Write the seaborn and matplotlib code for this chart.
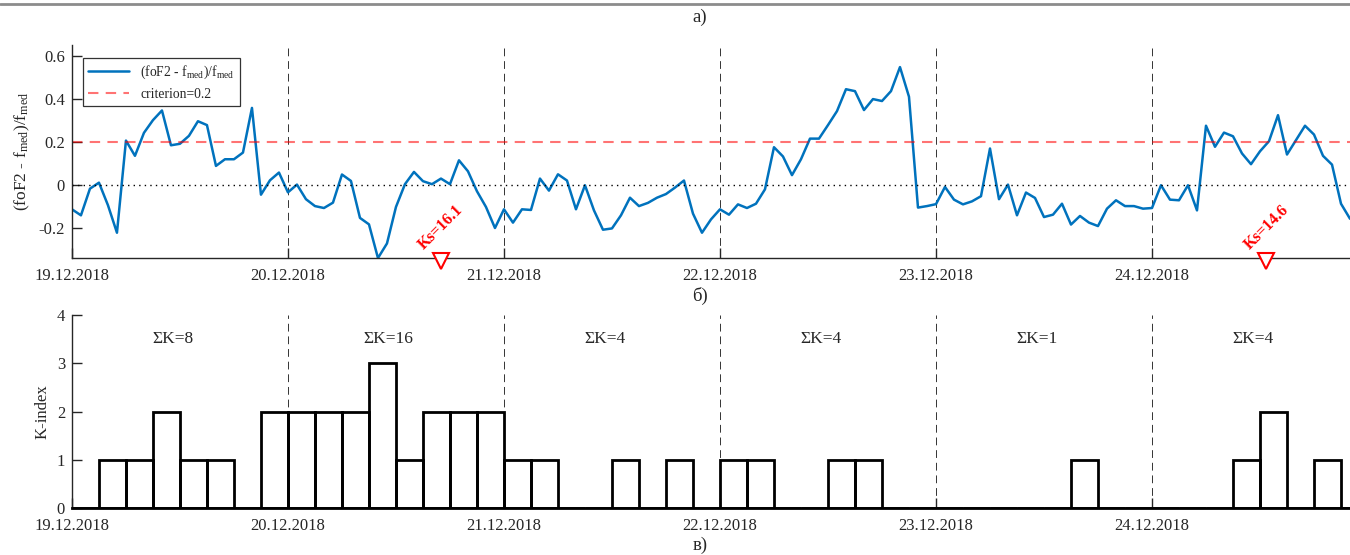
import numpy as np
import pandas as pd
import seaborn as sns
import matplotlib.pyplot as plt
from matplotlib.lines import Line2D

# hourly (foF2 - fmed)/fmed, starting 19.12.2018 00 UT
dfof2 = [-0.115, -0.143, -0.019, 0.009, -0.096, -0.224, 0.205, 0.134, 0.241, 0.30,
         0.345, 0.183, 0.19, 0.227, 0.295, 0.277, 0.087, 0.118, 0.118, 0.149,
         0.357, -0.047, 0.02, 0.056, -0.036,
         0.0, -0.068, -0.1, -0.109, -0.084, 0.047, 0.017, -0.155, -0.185, -0.342,
         -0.274, -0.104, 0.002, 0.059, 0.016, 0.002, 0.028, 0.002, 0.113, 0.062,
         -0.031, -0.104, -0.202, -0.115,
         -0.177, -0.115, -0.118, 0.028, -0.028, 0.048, 0.019, -0.115, -0.003, -0.12,
         -0.21, -0.204, -0.143, -0.061, -0.1, -0.085, -0.061, -0.044, -0.014, 0.019,
         -0.135, -0.224, -0.162, -0.115,
         -0.14, -0.092, -0.109, -0.089, -0.022, 0.174, 0.131, 0.044, 0.118, 0.214,
         0.214, 0.277, 0.342, 0.444, 0.435, 0.347, 0.398, 0.389, 0.435, 0.547,
         0.409, -0.107, -0.1, -0.091,
         -0.011, -0.07, -0.092, -0.078, -0.054, 0.168, -0.068, 0.0, -0.143, -0.037,
         -0.062, -0.151, -0.14, -0.089, -0.186, -0.146, -0.177, -0.193, -0.112, -0.073,
         -0.1, -0.1, -0.112, -0.109,
         -0.003, -0.07, -0.073, -0.003, -0.12, 0.274, 0.176, 0.242, 0.225, 0.145,
         0.095, 0.155, 0.202, 0.323, 0.14, 0.207, 0.274, 0.233, 0.134, 0.093,
         -0.089, -0.159]
hours = list(range(len(dfof2)))

# 3-hour K-index
k_index = [0, 1, 1, 2, 1, 1, 0, 2,
           2, 2, 2, 3, 1, 2, 2, 2,
           1, 1, 0, 0, 1, 0, 1, 0,
           1, 1, 0, 0, 1, 1, 0, 0,
           0, 0, 0, 0, 0, 1, 0, 0,
           0, 0, 0, 1, 2, 0, 1, 0]
k_sums = [8, 16, 4, 4, 1, 4]
day_labels = ["19.12.2018", "20.12.2018", "21.12.2018", "22.12.2018", "23.12.2018", "24.12.2018"]
criterion = 0.2
storm_hours = [41, 132.7]
storm_ks = [16.1, 14.6]

sns.set_style("ticks")
plt.rcParams['font.family'] = ['Liberation Serif', 'DejaVu Serif']
plt.rcParams['mathtext.fontset'] = 'custom'
plt.rcParams['mathtext.rm'] = 'Liberation Serif'
plt.rcParams['mathtext.it'] = 'Liberation Serif:italic'
plt.rcParams['axes.edgecolor'] = '#262626'

fig = plt.figure(figsize=(13.5, 5.55), dpi=100)
ax1 = fig.add_axes([0.0533, 0.535, 0.9467, 0.384])
ax2 = fig.add_axes([0.0533, 0.0847, 0.9467, 0.3477])

df = pd.DataFrame({"hour": hours, "dfof2": dfof2})
lab = r'(foF2 - f$_{\rm med}$)/f$_{\rm med}$'
sns.lineplot(data=df, x="hour", y="dfof2", ax=ax1, color='#0072BD', lw=1.8, label=lab)
ax1.axhline(criterion, color='red', alpha=0.55, lw=1.5, ls=(0, (5, 3.5)), label='criterion=0.2')
ax1.axhline(0, color='black', lw=1, ls=(0, (1, 3)))
for h in range(24, 144, 24):
    ax1.axvline(h, color='#333333', lw=0.7, ls=(0, (8, 5)), zorder=0)
    ax2.axvline(h, color='#333333', lw=0.7, ls=(0, (8, 5)), zorder=0)

ax1.set_xlim(0, hours[-1])
ax1.set_ylim(-0.342, 0.65)
ax1.set_yticks([-0.2, 0, 0.2, 0.4, 0.6])
ax1.set_yticklabels(['-0.2', '0', '0.2', '0.4', '0.6'])
ax1.set_xlabel("")
ax1.set_ylabel(lab, fontsize=12.5)
ax1.yaxis.set_label_coords(-0.031, 0.5)

for h, ks in zip(storm_hours, storm_ks):
    ax1.plot([h], [-0.357], marker='v', ms=12, mfc='white', mec='red', mew=1.5,
             clip_on=False, zorder=5)
    ax1.text(h, -0.2, "Ks=%.1f" % ks, color='red', fontweight='bold', fontsize=11.5,
             rotation=45, ha='center', va='center')

leg = ax1.legend(loc='upper left', bbox_to_anchor=(0.0086, 0.939), borderaxespad=0,
                 fontsize=9.8, frameon=True, fancybox=False, edgecolor='black',
                 handlelength=3)
leg.get_frame().set_linewidth(0.9)

# K-index bars
kdf = pd.DataFrame({"t": np.arange(len(k_index)) * 3 + 1.5, "k": k_index})
sns.histplot(data=kdf, x="t", weights="k", binwidth=3, binrange=(0, 144),
             fill=False, color='black', linewidth=2, ax=ax2)
ax2.set_xlim(0, hours[-1])
ax2.set_ylim(0, 4)
ax2.set_yticks([0, 1, 2, 3, 4])
ax2.set_ylabel("K-index", fontsize=12)
ax2.yaxis.set_label_coords(-0.017, 0.5)
for i, s in enumerate(k_sums):
    ax2.text(24 * i + 11.2, 3.5, "ΣK=%d" % s, fontsize=12.5, ha='center', va='center')

for ax in (ax1, ax2):
    ax.set_xticks(range(0, 144, 24))
    ax.set_xticklabels(day_labels)
    ax.tick_params(direction='in', length=7, width=1, labelsize=12)
    ax.tick_params(axis='x', pad=7)
    ax.tick_params(axis='y', pad=5)
    ax.spines['top'].set_visible(False)
    ax.spines['right'].set_visible(False)
    ax.spines['left'].set_linewidth(1)
    ax.spines['bottom'].set_linewidth(1)
    ax.set_xlabel("")
ax2.spines['bottom'].set_linewidth(2)
ax2.spines['bottom'].set_color('black')

fig.add_artist(Line2D([0, 1], [1 - 4 / 555] * 2, transform=fig.transFigure,
                      color='#8c8c8c', lw=2))
fig.text(0.5185, 1 - 17 / 555, "а)", fontsize=13.5, ha='center', va='center')
fig.text(0.5185, 1 - 296 / 555, "б)", fontsize=13.5, ha='center', va='center')
fig.text(0.5185, 1 - 545 / 555, "в)", fontsize=13.5, ha='center', va='center')

fig.savefig("out.png", dpi=100)
